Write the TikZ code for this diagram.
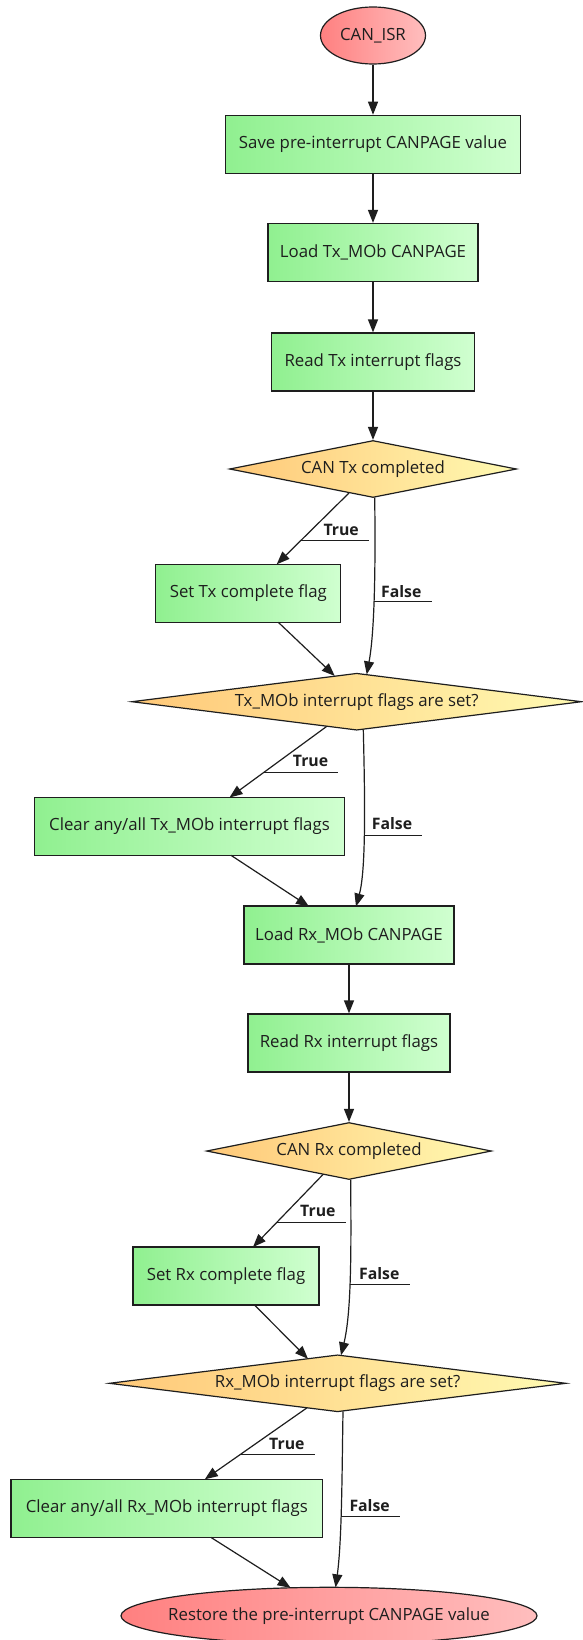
\documentclass[tikz,border=0pt]{standalone}
\usepackage{fontspec}
\setmainfont{Open Sans}
\usetikzlibrary{shapes.geometric,arrows.meta,calc}

\definecolor{procL}{RGB}{144,240,144}
\definecolor{procR}{RGB}{208,255,208}
\definecolor{decL}{RGB}{255,200,120}
\definecolor{decR}{RGB}{255,250,178}
\definecolor{termL}{RGB}{255,128,128}
\definecolor{termR}{RGB}{255,190,190}
\definecolor{ink}{RGB}{30,30,30}

\begin{document}
\begin{tikzpicture}[x=1pt,y=-1pt,
  every node/.style={font=\fontsize{16.8}{18}\selectfont, text=ink},
  procbox/.style={rectangle, draw=ink, line width=1.2pt, inner sep=0pt,
    shading=axis, left color=procL, right color=procR, minimum height=58pt},
  decision/.style={diamond, draw=ink, line width=1.2pt, inner sep=0pt,
    shading=axis, left color=decL, right color=decR, minimum height=57pt},
  terminal/.style={ellipse, draw=ink, line width=1.2pt, inner ysep=0pt, inner xsep=-25pt,
    shading=axis, left color=termL, right color=termR, minimum height=57pt},
  flow/.style={draw=ink, line width=1.2pt, -{Triangle[length=13pt,width=10pt]}},
  lbl/.style={font=\bfseries\fontsize{15.8}{17}\selectfont, inner sep=0pt, anchor=base west},
  uline/.style={draw=ink, line width=1pt}]

\fill[white] (0,0) rectangle (582,1640);
\useasboundingbox (0,0) rectangle (582,1640);

% ---- transmit side ----
\node[terminal, minimum width=105pt] (isr) at (373,35.5) {CAN\_ISR};
\node[procbox, minimum width=295pt] (save) at (373,144.3) {Save pre-interrupt CANPAGE value};
\node[procbox, minimum width=210pt] (ldtx) at (373,252.5) {Load Tx\_MOb CANPAGE};
\node[procbox, minimum width=203pt] (rdtx) at (373,362) {Read Tx interrupt flags};
\node[decision, aspect=5.035, minimum width=287pt] (cantx) at (373,469) {CAN Tx completed};
\node[procbox, minimum width=185pt] (settx) at (248.3,593.3) {Set Tx complete flag};
\node[decision, aspect=7.895, minimum width=450pt] (txmob) at (356.7,701.7) {Tx\_MOb interrupt flags are set?};
\node[procbox, minimum width=310pt] (cleartx) at (189.5,826.5) {Clear any/all Tx\_MOb interrupt flags};

% ---- receive side ----
\node[procbox, minimum width=210pt] (ldrx) at (349,935) {Load Rx\_MOb CANPAGE};
\node[procbox, minimum width=202pt] (rdrx) at (349,1043) {Read Rx interrupt flags};
\node[decision, aspect=5, minimum width=285pt] (canrx) at (349,1151) {CAN Rx completed};
\node[procbox, minimum width=186pt] (setrx) at (226,1276) {Set Rx complete flag};
\node[decision, aspect=8.02, minimum width=457pt] (rxmob) at (337.6,1383.3) {Rx\_MOb interrupt flags are set?};
\node[procbox, minimum width=311.5pt] (clearrx) at (166.8,1508.3) {Clear any/all Rx\_MOb interrupt flags};
\node[terminal, minimum width=416pt] (restore) at (329,1615.8) {Restore the pre-interrupt CANPAGE value};

% ---- edge labels ----
\node[lbl] (t1) at (323.3,535.3) {True};
\node[lbl] (f1) at (381,597.3) {False};
\node[lbl] (t2) at (292.7,766.7) {True};
\node[lbl] (f2) at (371.7,829.3) {False};
\node[lbl] (t3) at (300,1216.7) {True};
\node[lbl] (f3) at (359,1279) {False};
\node[lbl] (t4) at (269,1449.3) {True};
\node[lbl] (f4) at (349.3,1511.7) {False};

% ---- straight chain ----
\draw[flow] (isr) -- (save);
\draw[flow] (save) -- (ldtx);
\draw[flow] (ldtx) -- (rdtx);
\draw[flow] (rdtx) -- (cantx);
\draw[flow] (ldrx) -- (rdrx);
\draw[flow] (rdrx) -- (canrx);

% ---- CAN Tx completed ----
\draw[flow] ($(cantx)+(-24,24)$) -- coordinate[pos=0.66] (ut1) ($(settx)+(28.4,-29)$);
\draw[flow] ($(cantx)+(1.7,28.5)$) .. controls (375.5,560) and (375,630) ..
  coordinate[pos=0.55] (uf1) ($(txmob)+(10,-27.3)$);
\draw[flow] ($(settx)+(30,29)$) -- ($(txmob)+(-22,-25.8)$);

% ---- Tx_MOb flags ----
\draw[flow] ($(txmob)+(-30,24.7)$) -- coordinate[pos=0.645] (ut2) ($(cleartx)+(40,-29)$);
\draw[flow] ($(txmob)+(6.6,27.7)$) .. controls (365,800) and (366,870) ..
  coordinate[pos=0.525] (uf2) ($(ldrx)+(7,-28.5)$);
\draw[flow] ($(cleartx)+(41.5,28.8)$) -- ($(ldrx)+(-40,-28.5)$);

% ---- CAN Rx completed ----
\draw[flow] ($(canrx)+(-26,23.5)$) -- coordinate[pos=0.655] (ut3) ($(setrx)+(27,-29)$);
\draw[flow] ($(canrx)+(1.7,28.5)$) .. controls (351,1240) and (352,1310) ..
  coordinate[pos=0.565] (uf3) ($(rxmob)+(3.4,-28)$);
\draw[flow] ($(setrx)+(29,29.5)$) -- ($(rxmob)+(-29.6,-24.5)$);

% ---- Rx_MOb flags ----
\draw[flow] ($(rxmob)+(-30.6,24.5)$) -- coordinate[pos=0.65] (ut4) ($(clearrx)+(38,-29)$);
\draw[flow] ($(rxmob)+(5.4,28)$) .. controls (342,1470) and (342,1540) ..
  coordinate[pos=0.57] (uf4) ($(restore)+(6.6,-28.5)$);
\draw[flow] ($(clearrx)+(44,29)$) -- ($(restore)+(-38.4,-28)$);

% ---- label underlines ----
\foreach \u/\l in {ut1/t1, uf1/f1, ut2/t2, uf2/f2, ut3/t3, uf3/f3, ut4/t4, uf4/f4}
  \draw[uline] (\u) -- ([xshift=10pt]\u -| \l.east);

\end{tikzpicture}
\end{document}
